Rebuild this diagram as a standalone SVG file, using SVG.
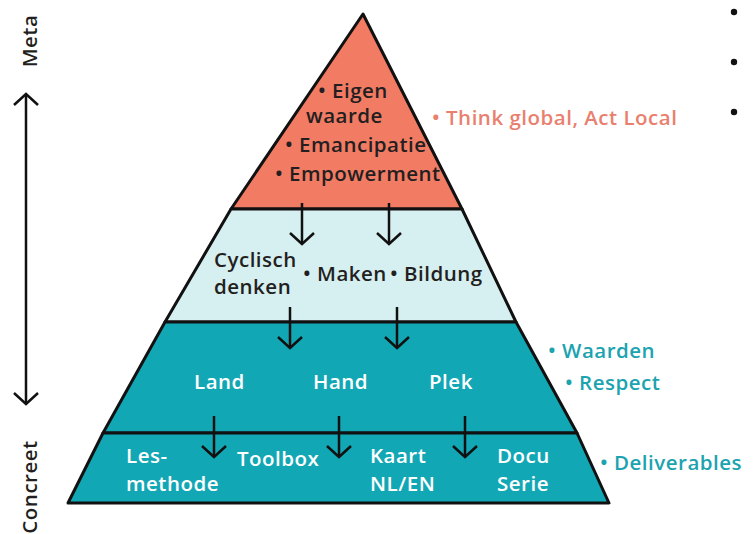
<svg xmlns="http://www.w3.org/2000/svg" width="754" height="534" viewBox="0 0 754 534">
<defs>
<style>
.layer{stroke:#111;stroke-width:3;stroke-linejoin:round}
.t{font-family:"Open Sans","Noto Sans","DejaVu Sans",sans-serif;font-weight:600;font-size:20.5px;letter-spacing:0.5px}
.dark{fill:#231f20}
.white{fill:#ffffff}
.teal{fill:#1ba3b0}
.salmon{fill:#e9806f}
.arr{stroke:#111;stroke-width:2.5;fill:none}
</style>
<marker id="head" viewBox="-2 -14 16 28" refX="11" refY="0" markerWidth="16" markerHeight="28" markerUnits="userSpaceOnUse" orient="auto-start-reverse" overflow="visible">
<path d="M0,-12 L11,0 L0,12" fill="none" stroke="#111" stroke-width="2.5" stroke-linejoin="miter"/>
</marker>
</defs>
<rect width="754" height="534" fill="#ffffff"/>

<g id="layer-meta">
<polygon class="layer" fill="#f27b64" points="363,14 462,209 231,209"/>
<text class="t dark" x="318" y="98">• Eigen</text>
<text class="t dark" x="306" y="123">waarde</text>
<text class="t dark" x="285" y="152">• Emancipatie</text>
<text class="t dark" x="275" y="181">• Empowerment</text>
</g>

<g id="layer-principles">
<polygon class="layer" fill="#d6eff0" points="231,209 462,209 516,322 165,322"/>
<text class="t dark" x="214" y="267">Cyclisch</text>
<text class="t dark" x="214" y="294">denken</text>
<text class="t dark" x="303" y="281">• Maken</text>
<text class="t dark" x="390" y="281">• Bildung</text>
</g>

<g id="layer-themes">
<polygon class="layer" fill="#12a7b5" points="165,322 516,322 577,433 103,433"/>
<text class="t white" x="194" y="389">Land</text>
<text class="t white" x="313" y="389">Hand</text>
<text class="t white" x="429" y="389">Plek</text>
</g>

<g id="layer-deliverables">
<polygon class="layer" fill="#12a7b5" points="103,433 577,433 609,503 68,503"/>
<text class="t white" x="126" y="463">Les-</text>
<text class="t white" x="126" y="491">methode</text>
<text class="t white" x="237" y="466">Toolbox</text>
<text class="t white" x="370" y="463">Kaart</text>
<text class="t white" x="370" y="491">NL/EN</text>
<text class="t white" x="497" y="463">Docu</text>
<text class="t white" x="497" y="491">Serie</text>
</g>

<g id="connectors">
<line class="arr" x1="302" y1="203" x2="302" y2="244" marker-end="url(#head)"/>
<line class="arr" x1="389" y1="203" x2="389" y2="244" marker-end="url(#head)"/>
<line class="arr" x1="290" y1="307" x2="290" y2="348" marker-end="url(#head)"/>
<line class="arr" x1="397" y1="307" x2="397" y2="348" marker-end="url(#head)"/>
<line class="arr" x1="214" y1="416" x2="214" y2="457" marker-end="url(#head)"/>
<line class="arr" x1="339" y1="416" x2="339" y2="457" marker-end="url(#head)"/>
<line class="arr" x1="465" y1="416" x2="465" y2="457" marker-end="url(#head)"/>
<line class="arr" x1="26" y1="94" x2="26" y2="404" marker-start="url(#head)" marker-end="url(#head)"/>
</g>

<g id="axis-labels">
<text class="t dark" transform="translate(37,41) rotate(-90)" text-anchor="middle">Meta</text>
<text class="t dark" transform="translate(37,487) rotate(-90)" text-anchor="middle">Concreet</text>
</g>

<g id="side-labels">
<text class="t salmon" x="432" y="125">• Think global, Act Local</text>
<text class="t teal" x="548" y="358">• Waarden</text>
<text class="t teal" x="565" y="390">• Respect</text>
<text class="t teal" x="600" y="470">• Deliverables</text>
<circle cx="734" cy="12" r="3.2" fill="#111"/>
<circle cx="734" cy="62" r="3.2" fill="#111"/>
<circle cx="734" cy="112" r="3.2" fill="#111"/>
</g>
</svg>
